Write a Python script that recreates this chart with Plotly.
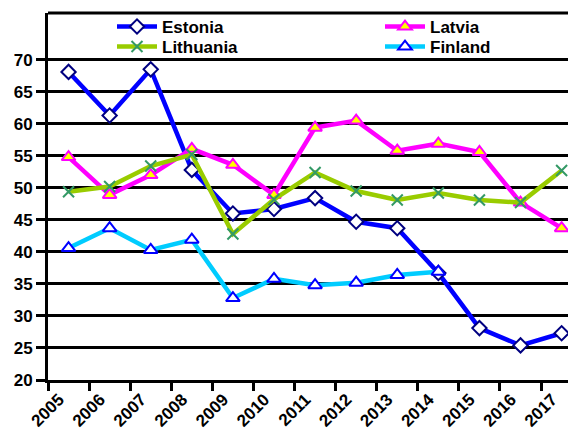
import plotly.graph_objects as go

years = [2005, 2006, 2007, 2008, 2009, 2010, 2011, 2012, 2013, 2014, 2015, 2016, 2017]
estonia = [68.1, 61.3, 68.5, 52.8, 46.0, 46.7, 48.4, 44.7, 43.7, 36.7, 28.1, 25.4, 27.3]
latvia = [54.8, 48.9, 52.0, 56.1, 53.6, 48.9, 59.4, 60.5, 55.8, 56.9, 55.6, 47.7, 43.7]
lithuania = [49.4, 50.2, 53.4, 55.2, 42.8, 48.2, 52.4, 49.5, 48.1, 49.2, 48.1, 47.7, 52.7]
finland = [40.6, 43.7, 40.3, 41.9, 32.8, 35.8, 34.8, 35.2, 36.4, 36.9, None, None, None]
y_ticks = [20, 25, 30, 35, 40, 45, 50, 55, 60, 65, 70]

xpos = [y + 0.5 for y in years]

fig = go.Figure()
fig.add_trace(go.Scatter(x=xpos, y=estonia, name="Estonia", mode="lines+markers",
                         legend="legend",
                         line=dict(color="#0000FF", width=4.5),
                         marker=dict(symbol="diamond", size=11, color="white",
                                     line=dict(color="#000080", width=2))))
fig.add_trace(go.Scatter(x=xpos, y=latvia, name="Latvia", mode="lines+markers",
                         legend="legend2",
                         line=dict(color="#FF00FF", width=4.5),
                         marker=dict(symbol="triangle-up", size=12, color="#FFFF00",
                                     line=dict(color="#FF00FF", width=2))))
fig.add_trace(go.Scatter(x=xpos, y=lithuania, name="Lithuania", mode="lines+markers",
                         legend="legend3",
                         line=dict(color="#99CC00", width=4.5),
                         marker=dict(symbol="x-thin-open", size=11, color="#339966",
                                     line=dict(color="#339966", width=2))))
fig.add_trace(go.Scatter(x=xpos, y=finland, name="Finland", mode="lines+markers",
                         legend="legend4",
                         line=dict(color="#00CCFF", width=4.5),
                         marker=dict(symbol="triangle-up", size=12, color="white",
                                     line=dict(color="#0000FF", width=2))))

font = "Liberation Sans, Arial, sans-serif"
# page body has an 8px margin; plot area on screen spans x 48..576, y 13..380
PL, PT, PR, PB = 40, 5, 8, 63
PW, PH = 576 - PL - PR, 435 - PT - PB
leg_common = dict(orientation="v", yanchor="top", xanchor="left",
                  xref="paper", yref="paper",
                  bgcolor="rgba(255,255,255,0)", tracegroupgap=0,
                  font=dict(size=17, family=font, weight="bold", color="black"),
                  itemwidth=40)


def lx(px):
    return (px - 8 - PL) / PW


def ly(py):
    return 1 - (py - 8 - PT) / PH


fig.update_layout(
    width=576, height=435,
    margin=dict(l=PL, r=PR, t=PT, b=PB, autoexpand=False),
    paper_bgcolor="white", plot_bgcolor="white",
    font=dict(family=font, size=16, color="black"),
    showlegend=True,
    legend=dict(x=lx(112), y=ly(9), **leg_common),
    legend3=dict(x=lx(112), y=ly(29), **leg_common),
    legend2=dict(x=lx(380), y=ly(9), **leg_common),
    legend4=dict(x=lx(380), y=ly(29), **leg_common),
    xaxis=dict(range=[2005, 2017.85], tickmode="array",
               tickvals=[y + 0.27 for y in years], ticktext=[str(y) for y in years],
               tickangle=-45, ticklen=0, showgrid=False, zeroline=False,
               showline=True, linecolor="black", linewidth=3, automargin=False,
               tickfont=dict(size=17, family=font, weight="bold"),
               minor=dict(tickmode="linear", tick0=2005, dtick=1, ticks="outside",
                          ticklen=8, tickwidth=3, tickcolor="black", showgrid=False),
               fixedrange=True),
    yaxis=dict(range=[20, 77.3], tickmode="array", tickvals=y_ticks,
               showgrid=True, gridcolor="black", gridwidth=3,
               ticks="outside", ticklen=9, tickwidth=3, tickcolor="black",
               showline=True, linecolor="black", linewidth=3, zeroline=False,
               automargin=False,
               tickfont=dict(size=17, family=font, weight="bold"), fixedrange=True),
)
fig.add_shape(type="line", xref="paper", yref="paper", x0=0, x1=1, y0=1, y1=1,
              line=dict(color="black", width=3), layer="below")
fig.write_html("out.html")
